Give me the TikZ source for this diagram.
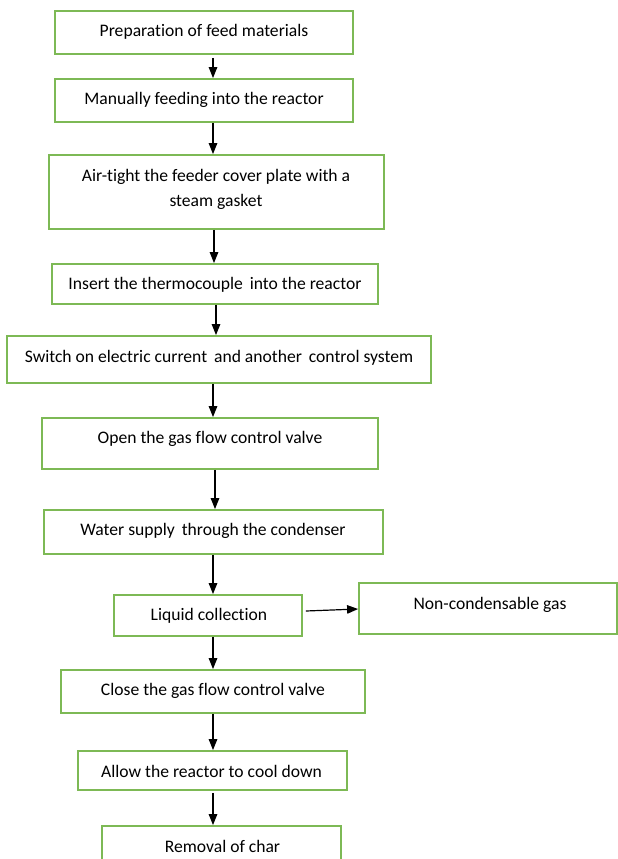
\documentclass[tikz,border=0pt]{standalone}
\usepackage{fontspec}
\setmainfont[RawFeature={-liga}]{Carlito}
\usetikzlibrary{arrows.meta}
\definecolor{boxgreen}{RGB}{125,185,85}
\tikzset{
  box/.style={draw=boxgreen, line width=1.8pt, rectangle, inner sep=0pt, fill=none},
  txt/.style={inner sep=0pt, yshift=-4pt, font=\fontsize{17.6}{24}\selectfont, text height=0.68em, text depth=0.16em, align=center},
  arr/.style={line width=1.2pt, -{Triangle[length=11pt,width=8.5pt]}}
}
\begin{document}
\begin{tikzpicture}[x=1pt,y=1pt]
\useasboundingbox (0,0) rectangle (618,-859);
% boxes
\node[box, minimum width=298, minimum height=43] (b1) at (204,-32.5) {};
\node[box, minimum width=298, minimum height=43] (b2) at (204,-100.5) {};
\node[box, minimum width=335, minimum height=74] (b3) at (216.5,-192) {};
\node[box, minimum width=326, minimum height=40] (b4) at (215,-284) {};
\node[box, minimum width=424, minimum height=47] (b5) at (219,-359.5) {};
\node[box, minimum width=336, minimum height=51] (b6) at (210,-443.5) {};
\node[box, minimum width=339, minimum height=44] (b7) at (213.5,-532) {};
\node[box, minimum width=188, minimum height=41] (b8) at (208,-615.5) {};
\node[box, minimum width=258, minimum height=51] (b9) at (488,-608.5) {};
\node[box, minimum width=304, minimum height=43] (b10) at (213,-691.5) {};
\node[box, minimum width=269, minimum height=39] (b11) at (212.5,-770.5) {};
\node[box, minimum width=239, minimum height=44] (b12) at (221.5,-848) {};
% texts
\node[txt] (t1) at (204,-30) {Preparation of feed materials};
\node[txt] (t2) at (204,-98) {Manually feeding into the reactor};
\node[txt] (t3a) at (216,-175) {Air-tight the feeder cover plate with a};
\node[txt] (t3b) at (216,-200) {steam gasket};
\node[txt] (t4) at (215,-283) {Insert the thermocouple\, into the reactor};
\node[txt] (t5) at (219,-356) {Switch on electric current\, and another\, control system};
\node[txt] (t6) at (210,-437) {Open the gas flow control valve};
\node[txt] (t7) at (213,-529) {Water supply\, through the condenser};
\node[txt] (t8) at (209,-614) {Liquid collection};
\node[txt] (t9) at (490,-603) {Non-condensable gas};
\node[txt] (t10) at (213,-689) {Close the gas flow control valve};
\node[txt] (t11) at (211.5,-771) {Allow the reactor to cool down};
\node[txt] (t12) at (222.5,-846) {Removal of char};
% arrow columns
\coordinate (c1) at (213,0);
\coordinate (c2) at (214,0);
\coordinate (c3) at (216,0);
\coordinate (c4) at (215,0);
% connectors
\draw[arr] ([yshift=-3]b1.south -| c1) -- (b2.north -| c1);
\draw[arr] (b2.south -| c1) -- (b3.north -| c1);
\draw[arr] (b3.south -| c2) -- (b4.north -| c2);
\draw[arr] (b4.south -| c3) -- (b5.north -| c3);
\draw[arr] (b5.south -| c1) -- (b6.north -| c1);
\draw[arr] (b6.south -| c4) -- (b7.north -| c4);
\draw[arr] (b7.south -| c1) -- (b8.north -| c1);
\draw[arr] ([shift={(3,4.5)}]b8.east) -- ([yshift=-0.5]b9.west);
\draw[arr] (b8.south -| c1) -- (b10.north -| c1);
\draw[arr] (b10.south -| c1) -- (b11.north -| c1);
\draw[arr] ([yshift=-2]b11.south -| c1) -- (b12.north -| c1);
\end{tikzpicture}
\end{document}
